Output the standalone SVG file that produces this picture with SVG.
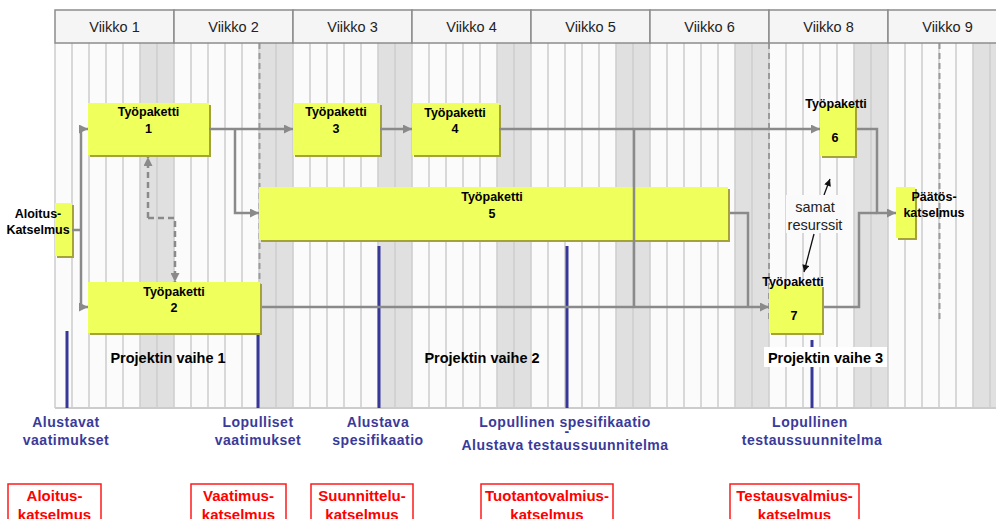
<svg xmlns="http://www.w3.org/2000/svg" width="996" height="519" viewBox="0 0 996 519">
  <style>
    .hdr { fill: #f5f5f5; stroke: #8c8c8c; stroke-width: 1.5; }
    .hdrtxt { font-family: "Liberation Sans", Arial, sans-serif; font-size: 14.5px; fill: #222; text-anchor: middle; }
    .wkend { fill: #e0e0e0; }
    .gridln { stroke: #cdcdcd; stroke-width: 1.5; fill: none; }
    .dash { stroke: #9a9a9a; stroke-width: 2; stroke-dasharray: 6 4; fill: none; }
    .box { fill: #efff5c; }
    .shadow { fill: #a3a33a; }
    .lbl { font-family: "Liberation Sans", Arial, sans-serif; font-size: 12.5px; font-weight: bold; fill: #000; text-anchor: middle; }
    .conn { stroke: #8a8a8a; stroke-width: 2.5; fill: none; }
    .connd { stroke: #8a8a8a; stroke-width: 2.5; fill: none; stroke-dasharray: 6 4; }
    .thin { stroke: #111; stroke-width: 1.3; fill: none; }
    .mile { stroke: #37379a; stroke-width: 3; }
    .mtxt { font-family: "Liberation Sans", Arial, sans-serif; font-size: 14px; font-weight: bold; fill: #3a3a9a; text-anchor: middle; letter-spacing: 0.5px; }
    .phase { font-family: "Liberation Sans", Arial, sans-serif; font-size: 14.5px; font-weight: bold; fill: #000; text-anchor: middle; }
    .note { font-family: "Liberation Sans", Arial, sans-serif; font-size: 14.5px; fill: #222; text-anchor: middle; }
    .rbox { fill: #fff; stroke: #ff1a1a; stroke-width: 1.5; }
    .rtxt { font-family: "Liberation Sans", Arial, sans-serif; font-size: 15px; font-weight: bold; fill: #ff0000; text-anchor: middle; }
  </style>
  <defs>
    <marker id="arr" viewBox="0 0 10 10" refX="10" refY="5" markerWidth="10" markerHeight="9" markerUnits="userSpaceOnUse" orient="auto">
      <path d="M0 0 L10 5 L0 10 z" fill="#8a8a8a"/>
    </marker>
    <marker id="arrk" viewBox="0 0 10 10" refX="10" refY="5" markerWidth="8" markerHeight="7" markerUnits="userSpaceOnUse" orient="auto">
      <path d="M0 0 L10 5 L0 10 z" fill="#111"/>
    </marker>
  </defs>

  <rect width="996" height="519" fill="#fff"/>

  <!-- timeline grid -->
  <g id="grid">
    <rect x="55" y="43" width="960" height="365" fill="#fbfbfb"/>
    <rect class="wkend" x="140" y="43" width="34" height="365"/>
    <rect class="wkend" x="259" y="43" width="34" height="365"/>
    <rect class="wkend" x="378" y="43" width="34" height="365"/>
    <rect class="wkend" x="497" y="43" width="34" height="365"/>
    <rect class="wkend" x="616" y="43" width="34" height="365"/>
    <rect class="wkend" x="735" y="43" width="34" height="365"/>
    <rect class="wkend" x="854" y="43" width="34" height="365"/>
    <rect class="wkend" x="973" y="43" width="34" height="365"/>
    <path class="gridln" d="M55 43V408M72 43V408M89 43V408M106 43V408M123 43V408M140 43V408M157 43V408M174 43V408M191 43V408M208 43V408M225 43V408M242 43V408M259 43V408M276 43V408M293 43V408M310 43V408M327 43V408M344 43V408M361 43V408M378 43V408M395 43V408M412 43V408M429 43V408M446 43V408M463 43V408M480 43V408M497 43V408M514 43V408M531 43V408M548 43V408M565 43V408M582 43V408M599 43V408M616 43V408M633 43V408M650 43V408M667 43V408M684 43V408M701 43V408M718 43V408M735 43V408M752 43V408M769 43V408M786 43V408M803 43V408M820 43V408M837 43V408M854 43V408M871 43V408M888 43V408M905 43V408M922 43V408M939 43V408M956 43V408M973 43V408M990 43V408"/>
    <path d="M55 408H996" stroke="#cccccc" stroke-width="2"/>
    <path class="dash" d="M259.5 43V323M769 43V323M939.5 43V323"/>
  </g>

  <!-- week header -->
  <g id="header">
    <rect class="hdr" x="55" y="10" width="119" height="33"/>
    <rect class="hdr" x="174" y="10" width="119" height="33"/>
    <rect class="hdr" x="293" y="10" width="119" height="33"/>
    <rect class="hdr" x="412" y="10" width="119" height="33"/>
    <rect class="hdr" x="531" y="10" width="119" height="33"/>
    <rect class="hdr" x="650" y="10" width="119" height="33"/>
    <rect class="hdr" x="769" y="10" width="119" height="33"/>
    <rect class="hdr" x="888" y="10" width="119" height="33"/>
    <text class="hdrtxt" x="114.5" y="32">Viikko 1</text>
    <text class="hdrtxt" x="233.5" y="32">Viikko 2</text>
    <text class="hdrtxt" x="352.5" y="32">Viikko 3</text>
    <text class="hdrtxt" x="471.5" y="32">Viikko 4</text>
    <text class="hdrtxt" x="590.5" y="32">Viikko 5</text>
    <text class="hdrtxt" x="709.5" y="32">Viikko 6</text>
    <text class="hdrtxt" x="828.5" y="32">Viikko 8</text>
    <text class="hdrtxt" x="947.5" y="32">Viikko 9</text>
  </g>

  <!-- milestones -->
  <g id="milestones">
    <line class="mile" x1="67" y1="331" x2="67" y2="408"/>
    <line class="mile" x1="258" y1="334" x2="258" y2="408"/>
    <line class="mile" x1="379" y1="246" x2="379" y2="408"/>
    <line class="mile" x1="567" y1="246" x2="567" y2="408"/>
    <line class="mile" x1="812" y1="340" x2="812" y2="408"/>
    <text class="mtxt" x="66" y="427">Alustavat</text>
    <text class="mtxt" x="66" y="445">vaatimukset</text>
    <text class="mtxt" x="258" y="427">Lopulliset</text>
    <text class="mtxt" x="258" y="445">vaatimukset</text>
    <text class="mtxt" x="378" y="427">Alustava</text>
    <text class="mtxt" x="378" y="445">spesifikaatio</text>
    <text class="mtxt" x="565" y="427">Lopullinen spesifikaatio</text>
    <text class="mtxt" x="567" y="436">-</text>
    <text class="mtxt" x="565" y="450">Alustava testaussuunnitelma</text>
    <text class="mtxt" x="810" y="427">Lopullinen</text>
    <text class="mtxt" x="812" y="445">testaussuunnitelma</text>
  </g>

  <!-- nodes -->
  <g id="aloitus">
    <rect class="shadow" x="57" y="205" width="17" height="53"/>
    <rect class="box" x="55" y="203" width="17" height="53"/>
    <text class="lbl" x="38" y="218">Aloitus-</text>
    <text class="lbl" x="38" y="234">Katselmus</text>
  </g>
  <g id="tp1">
    <rect class="shadow" x="90" y="105" width="121" height="52"/>
    <rect class="box" x="88" y="103" width="121" height="52"/>
    <text class="lbl" x="148.5" y="116">Työpaketti</text>
    <text class="lbl" x="148.5" y="133">1</text>
  </g>
  <g id="tp2">
    <rect class="shadow" x="90" y="284" width="172" height="51"/>
    <rect class="box" x="88" y="282" width="172" height="51"/>
    <text class="lbl" x="174" y="296">Työpaketti</text>
    <text class="lbl" x="174" y="312">2</text>
  </g>
  <g id="tp3">
    <rect class="shadow" x="295" y="105" width="87" height="52"/>
    <rect class="box" x="293" y="103" width="87" height="52"/>
    <text class="lbl" x="336" y="116">Työpaketti</text>
    <text class="lbl" x="336" y="133">3</text>
  </g>
  <g id="tp4">
    <rect class="shadow" x="414" y="105" width="87" height="52"/>
    <rect class="box" x="412" y="103" width="87" height="52"/>
    <text class="lbl" x="455" y="117">Työpaketti</text>
    <text class="lbl" x="455" y="133">4</text>
  </g>
  <g id="tp5">
    <rect class="shadow" x="261" y="189" width="469" height="53"/>
    <rect class="box" x="259" y="187" width="469" height="53"/>
    <text class="lbl" x="492" y="201">Työpaketti</text>
    <text class="lbl" x="492" y="218">5</text>
  </g>
  <g id="tp6">
    <rect class="shadow" x="822" y="107" width="35" height="51"/>
    <rect class="box" x="820" y="105" width="35" height="51"/>
    <text class="lbl" x="836" y="108">Työpaketti</text>
    <text class="lbl" x="835" y="142">6</text>
  </g>
  <g id="tp7">
    <rect class="shadow" x="771" y="287" width="53" height="48"/>
    <rect class="box" x="769" y="285" width="53" height="48"/>
    <text class="lbl" x="793" y="286">Työpaketti</text>
    <text class="lbl" x="794" y="320">7</text>
  </g>
  <g id="paatos">
    <rect class="shadow" x="898" y="189" width="19" height="51"/>
    <rect class="box" x="896" y="187" width="19" height="51"/>
    <text class="lbl" x="934" y="201">Päätös-</text>
    <text class="lbl" x="934" y="217">katselmus</text>
  </g>

  <!-- connectors -->
  <g id="connectors">
    <path class="conn" d="M72 230H81M81 129V307"/>
    <path class="conn" d="M81 129H88" marker-end="url(#arr)"/>
    <path class="conn" d="M81 307H88" marker-end="url(#arr)"/>
    <path class="conn" d="M209 129H293" marker-end="url(#arr)"/>
    <path class="conn" d="M235 129V213H259" marker-end="url(#arr)"/>
    <path class="conn" d="M380 129H412" marker-end="url(#arr)"/>
    <path class="conn" d="M499 129H820" marker-end="url(#arr)"/>
    <path class="conn" d="M634 129V307"/>
    <path class="conn" d="M262 307H769" marker-end="url(#arr)"/>
    <path class="conn" d="M730 213H748V307"/>
    <path class="conn" d="M857 129H877V213H896" marker-end="url(#arr)"/>
    <path class="conn" d="M824 307H859V213H877"/>
    <path class="connd" d="M148 218V157" marker-end="url(#arr)"/>
    <path class="connd" d="M148 218H175V282" marker-end="url(#arr)"/>
    <path class="thin" d="M824 195L830 179" marker-end="url(#arrk)"/>
    <path class="thin" d="M814 234L804 272" marker-end="url(#arrk)"/>
  </g>

  <!-- shared-resource note -->
  <g id="samat">
    <rect x="786" y="195" width="60" height="38" fill="#fafafa"/>
    <text class="note" x="815" y="212">samat</text>
    <text class="note" x="815" y="230">resurssit</text>
  </g>

  <!-- phase labels -->
  <g id="phases">
    <text class="phase" x="168" y="363">Projektin vaihe 1</text>
    <text class="phase" x="482" y="363">Projektin vaihe 2</text>
    <rect x="764" y="347" width="123" height="20" fill="#fff"/>
    <text class="phase" x="825.5" y="363">Projektin vaihe 3</text>
  </g>

  <!-- reviews -->
  <g id="rev1">
    <rect class="rbox" x="8" y="484" width="93" height="50"/>
    <text class="rtxt" x="54.5" y="501">Aloitus-</text>
    <text class="rtxt" x="54.5" y="520">katselmus</text>
  </g>
  <g id="rev2">
    <rect class="rbox" x="191" y="484" width="95" height="50"/>
    <text class="rtxt" x="238.5" y="501">Vaatimus-</text>
    <text class="rtxt" x="238.5" y="520">katselmus</text>
  </g>
  <g id="rev3">
    <rect class="rbox" x="311" y="484" width="102" height="50"/>
    <text class="rtxt" x="362" y="501">Suunnittelu-</text>
    <text class="rtxt" x="362" y="520">katselmus</text>
  </g>
  <g id="rev4">
    <rect class="rbox" x="481" y="484" width="132" height="50"/>
    <text class="rtxt" x="547" y="501">Tuotantovalmius-</text>
    <text class="rtxt" x="547" y="520">katselmus</text>
  </g>
  <g id="rev5">
    <rect class="rbox" x="730" y="484" width="129" height="50"/>
    <text class="rtxt" x="794.5" y="501">Testausvalmius-</text>
    <text class="rtxt" x="794.5" y="520">katselmus</text>
  </g>
</svg>
